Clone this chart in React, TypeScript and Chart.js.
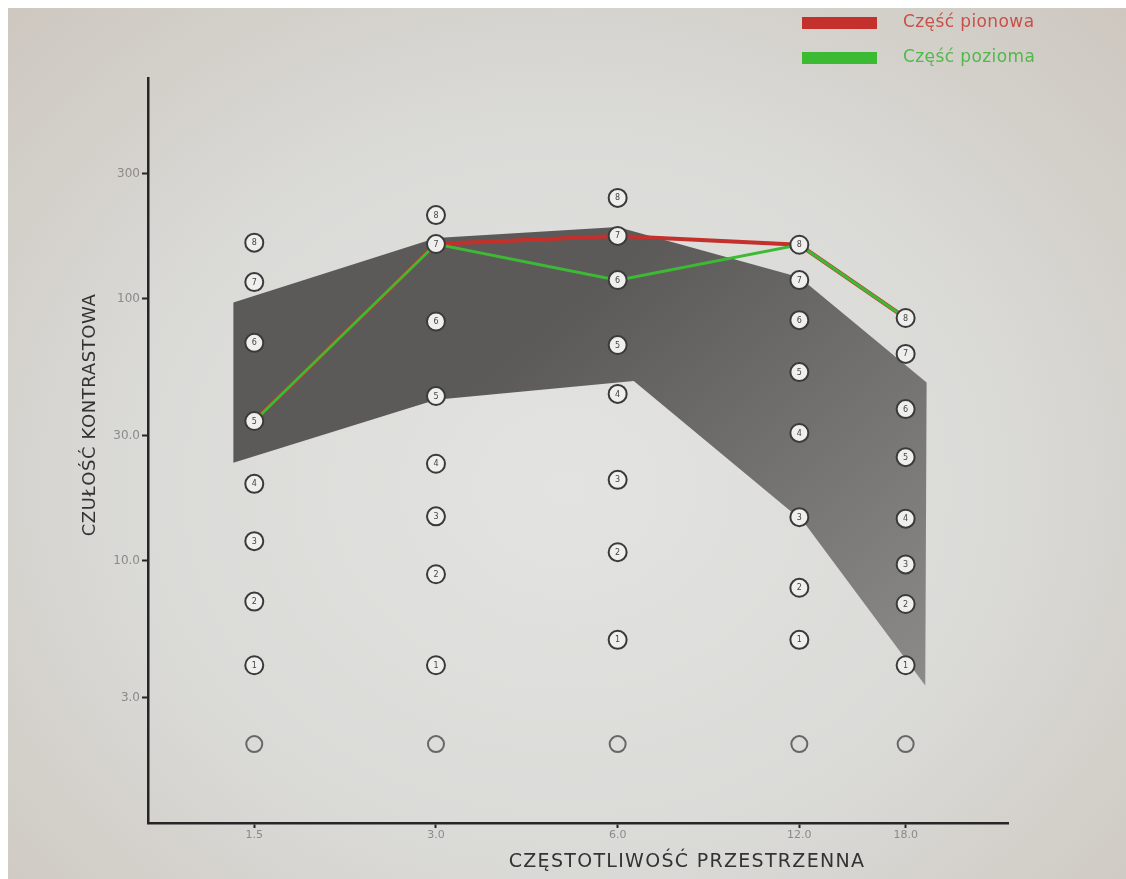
import { useEffect, useRef } from 'react';
import { Chart, registerables } from 'chart.js';

Chart.register(...registerables);

// ---- data ----
const FREQUENCIES = [1.5, 3, 6, 12, 18];
const CIRCLE_NUMBERS = ['8', '7', '6', '5', '4', '3', '2', '1'];
const COL_1_5 = [164, 116, 68, 34.2, 19.7, 11.9, 7.0, 4.0];
const COL_3 = [209, 162, 82, 42.6, 23.5, 14.8, 8.9, 4.0];
const COL_6 = [243, 174, 118, 66.7, 43.4, 20.4, 10.8, 5.0];
const COL_12 = [161, 118, 83, 52.6, 30.8, 14.7, 7.9, 5.0];
const COL_18 = [84.6, 61.7, 38, 24.9, 14.5, 9.7, 6.85, 4.0];
const BLANK_ROW = [2.0, 2.0, 2.0, 2.0, 2.0];

const VERTICAL = [34.2, 162, 174, 161, 84.6]; // Część pionowa
const HORIZONTAL = [34.2, 162, 118, 161, 84.6]; // Część pozioma

const BAND_UPPER_X = [1.385, 3, 6, 12, 19.5];
const BAND_UPPER_Y = [97, 171, 188, 121, 48];
const BAND_LOWER_X = [1.385, 3, 6.38, 12.2, 19.4];
const BAND_LOWER_Y = [23.7, 41.2, 48.6, 14.1, 3.35];

const X_TICKS = [1.5, 3, 6, 12, 18];
const X_TICK_LABELS = ['1.5', '3.0', '6.0', '12.0', '18.0'];
const Y_TICKS = [3, 10, 30, 100, 300];
const Y_TICK_LABELS = ['3.0', '10.0', '30.0', '100', '300'];

const SERIES_NAMES = ['Część pionowa', 'Część pozioma'];
const X_TITLE = 'CZĘSTOTLIWOŚĆ PRZESTRZENNA';
const Y_TITLE = 'CZUŁOŚĆ KONTRASTOWA';

const FONT = "'DejaVu Sans', sans-serif";
const RED = '#c4302b';
const GREEN = '#3dba34';

const COLUMNS = [COL_1_5, COL_3, COL_6, COL_12, COL_18];
const circlePoints: { x: number; y: number }[] = [];
const circleLabels: string[] = [];
COLUMNS.forEach((col, ci) => {
  col.forEach((v, i) => {
    circlePoints.push({ x: FREQUENCIES[ci], y: v });
    circleLabels.push(CIRCLE_NUMBERS[i]);
  });
});

const bandPoints = [
  ...BAND_UPPER_X.map((x, i) => ({ x, y: BAND_UPPER_Y[i] })),
  ...BAND_LOWER_X.map((x, i) => ({ x, y: BAND_LOWER_Y[i] })).reverse(),
  { x: BAND_UPPER_X[0], y: BAND_UPPER_Y[0] },
];

const CIRCLE_DS = 3;

const overlay = {
  id: 'overlay',
  afterDatasetsDraw(chart: any) {
    const ctx = chart.ctx;
    const meta = chart.getDatasetMeta(CIRCLE_DS);
    ctx.save();
    ctx.font = `8px ${FONT}`;
    ctx.fillStyle = '#444444';
    ctx.textAlign = 'center';
    ctx.textBaseline = 'middle';
    meta.data.forEach((el: any, i: number) => {
      ctx.fillText(circleLabels[i], el.x, el.y + 0.5);
    });
    ctx.restore();
  },
  afterDraw(chart: any) {
    const ctx = chart.ctx;
    const a = chart.chartArea;
    ctx.save();
    // legend
    const items = [
      { color: RED, text: '#c9504a', y: 15 },
      { color: GREEN, text: '#52b84a', y: 50 },
    ];
    items.forEach((it, i) => {
      ctx.fillStyle = it.color;
      ctx.fillRect(794, it.y - 6, 75, 12);
      ctx.font = `17px ${FONT}`;
      (ctx as any).letterSpacing = '0.4px';
      ctx.fillStyle = it.text;
      ctx.textAlign = 'left';
      ctx.textBaseline = 'middle';
      ctx.fillText(SERIES_NAMES[i], 895, it.y);
    });
    // axis titles
    ctx.fillStyle = '#333333';
    ctx.font = `18px ${FONT}`;
    (ctx as any).letterSpacing = '0.6px';
    ctx.textAlign = 'center';
    ctx.textBaseline = 'middle';
    ctx.save();
    ctx.translate(a.left - 58, a.top + 337);
    ctx.rotate(-Math.PI / 2);
    ctx.fillText(Y_TITLE, 0, 0);
    ctx.restore();
    ctx.font = `19px ${FONT}`;
    (ctx as any).letterSpacing = '1.3px';
    ctx.fillText(X_TITLE, a.left + 539, a.bottom + 39);
    ctx.restore();
  },
};

function bandGradient(c: any) {
  const chart = c.chart;
  const a = chart.chartArea;
  if (!a) return '#666';
  const w = a.right - a.left;
  const h = a.bottom - a.top;
  const g = chart.ctx.createLinearGradient(a.left + w * 0.5, a.top + h * 0.3, a.left + w * 0.9, a.bottom - h * 0.15);
  g.addColorStop(0, '#5c5a58');
  g.addColorStop(1, '#8e8c8a');
  return g;
}

export default function App() {
  const ref = useRef<HTMLCanvasElement>(null);
  useEffect(() => {
    const axisColor = '#262626';
    const chart = new Chart(ref.current as HTMLCanvasElement, {
      type: 'scatter',
      data: {
        datasets: [
          {
            type: 'line',
            label: 'band',
            data: bandPoints,
            fill: 'shape',
            backgroundColor: bandGradient,
            borderWidth: 0,
            pointRadius: 0,
            tension: 0,
            order: 4,
          } as any,
          {
            type: 'line',
            label: SERIES_NAMES[0],
            data: FREQUENCIES.map((x, i) => ({ x, y: VERTICAL[i] })),
            borderColor: RED,
            borderWidth: 4,
            pointRadius: 0,
            fill: false,
            tension: 0,
            order: 3,
          } as any,
          {
            type: 'line',
            label: SERIES_NAMES[1],
            data: FREQUENCIES.map((x, i) => ({ x, y: HORIZONTAL[i] })),
            borderColor: GREEN,
            borderWidth: 3,
            pointRadius: 0,
            fill: false,
            tension: 0,
            order: 2,
          } as any,
          {
            type: 'scatter',
            label: 'levels',
            data: circlePoints,
            pointRadius: 9,
            pointBorderWidth: 2,
            pointBorderColor: '#3a3a3a',
            pointBackgroundColor: '#efefed',
            order: 1,
          } as any,
          {
            type: 'scatter',
            label: 'blank',
            data: FREQUENCIES.map((x, i) => ({ x, y: BLANK_ROW[i] })),
            pointRadius: 8,
            pointBorderWidth: 2,
            pointBorderColor: '#666666',
            pointBackgroundColor: 'rgba(0,0,0,0)',
            order: 0,
          } as any,
        ],
      },
      options: {
        animation: false,
        responsive: false,
        events: [],
        layout: { padding: { top: 70, right: 118, left: 0, bottom: 0 } },
        plugins: { legend: { display: false }, tooltip: { enabled: false } },
        scales: {
          x: {
            type: 'logarithmic',
            min: 1,
            max: 26.6,
            afterFit: (s: any) => {
              s.height = 56;
            },
            afterBuildTicks: (s: any) => {
              s.ticks = X_TICKS.map((v) => ({ value: v }));
            },
            ticks: {
              callback: (v: any) => X_TICK_LABELS[X_TICKS.indexOf(Number(v))] ?? '',
              color: '#8a8a8a',
              font: { family: FONT, size: 11 },
              padding: 1,
              autoSkip: false,
              maxRotation: 0,
            },
            grid: {
              drawOnChartArea: false,
              drawTicks: true,
              tickLength: 5,
              tickColor: axisColor,
              tickWidth: 2,
            },
            border: { color: axisColor, width: 2.5 },
          } as any,
          y: {
            type: 'logarithmic',
            min: 1,
            max: 697,
            afterFit: (s: any) => {
              s.width = 140;
            },
            afterBuildTicks: (s: any) => {
              s.ticks = Y_TICKS.map((v) => ({ value: v }));
            },
            ticks: {
              callback: (v: any) => Y_TICK_LABELS[Y_TICKS.indexOf(Number(v))] ?? '',
              color: '#8a8a8a',
              font: { family: FONT, size: 12 },
              padding: 2,
              autoSkip: false,
            },
            grid: {
              drawOnChartArea: false,
              drawTicks: true,
              tickLength: 6,
              tickColor: axisColor,
              tickWidth: 2,
            },
            border: { color: axisColor, width: 2.5 },
          } as any,
        },
      } as any,
      plugins: [overlay],
    });
    return () => chart.destroy();
  }, []);

  return (
    <div
      style={{
        position: 'fixed',
        left: 8,
        top: 8,
        right: 0,
        bottom: 0,
        background:
          'radial-gradient(ellipse at 50% 55%, #e3e3e1 0%, #dadad7 55%, #cdc7bf 100%)',
        overflow: 'hidden',
      }}
    >
      <canvas ref={ref} width={1118} height={871} style={{ display: 'block' }} />
    </div>
  );
}
